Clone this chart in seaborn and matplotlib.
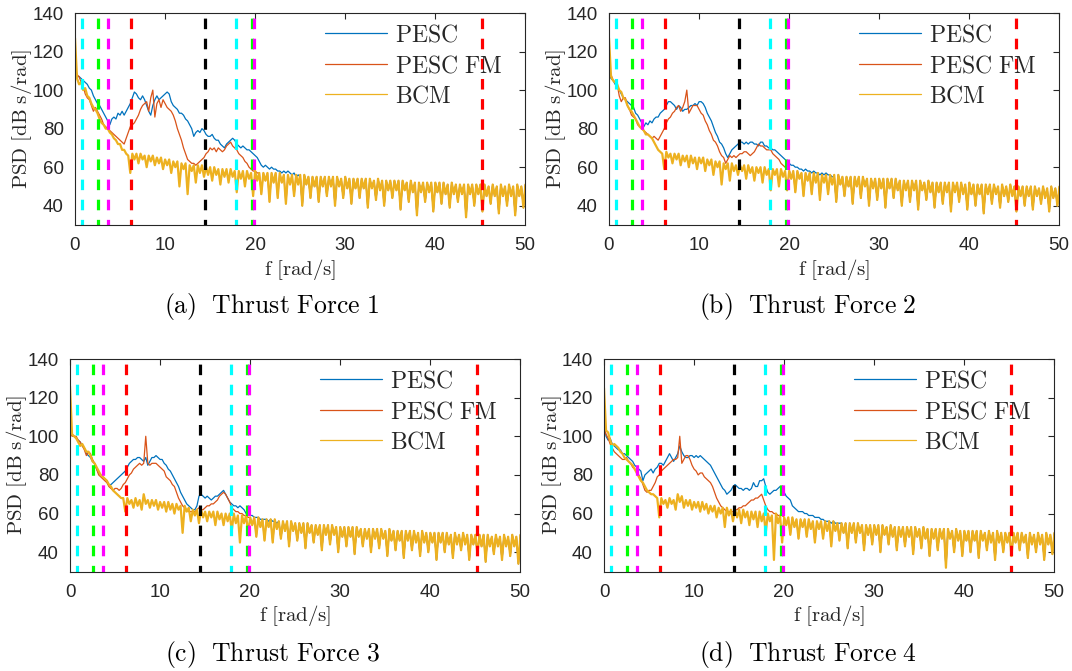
import numpy as np
import pandas as pd
import matplotlib
matplotlib.use("Agg")
import matplotlib.pyplot as plt
import seaborn as sns

# frequency bin width of the spectra [rad/s]
DF = 0.2275

# ---------------- Thrust Force 1 ----------------
bcm_a = [127, 106, 103, 104, 100, 101, 97, 96, 93, 91, 90, 88, 85, 83, 82, 80,
         80, 78, 77, 75, 74, 72, 72, 69, 69, 67, 66, 57,
         67, 64, 67, 62, 67, 64, 66, 60, 66, 63, 66, 61, 65, 62, 65, 59,
         64, 61, 64, 57, 63, 60, 63, 50, 62, 59, 62, 46, 61, 58, 61, 52,
         61, 57, 61, 55, 60, 56, 60, 53, 60, 56, 59, 51, 59, 55, 59, 52,
         59, 55, 58, 47, 58, 54, 58, 50, 58, 54, 57, 45, 58, 53, 57, 46,
         57, 53, 57, 42, 57, 52, 57, 44, 57, 52, 56, 41, 56, 51, 56, 45,
         56, 51, 56, 40, 56, 51, 55, 44, 55, 50, 55, 42, 55, 50, 55, 45,
         55, 50, 55, 40, 55, 50, 54, 44, 55, 49, 54, 41, 54, 49, 54, 44,
         54, 49, 54, 39, 54, 49, 53, 43, 54, 48, 53, 40, 53, 48, 53, 44,
         53, 48, 53, 38, 53, 48, 52, 42, 53, 47, 52, 35, 52, 47, 52, 42,
         52, 47, 52, 37, 52, 47, 52, 41, 52, 46, 51, 39, 52, 46, 51, 42,
         51, 46, 51, 34, 51, 46, 51, 40, 51, 46, 51, 37, 51, 45, 50, 41,
         51, 45, 50, 36, 51, 45, 50, 40, 51, 45, 50, 35, 51, 45, 50, 39, 51]
pesc_a = [110, 107, 107, 106, 105, 104, 103, 101, 100, 97,
          95, 93, 92, 90, 88, 86, 84, 82, 85, 86,
          85, 88, 87, 89, 87, 89, 91, 93, 96, 99,
          98, 96, 95, 97, 95, 92, 89, 87, 92, 95,
          97, 95, 96, 97, 98, 99, 98, 94, 92, 91,
          90, 88, 88, 87, 85, 84, 82, 80, 76, 78,
          79, 78, 80, 79, 77, 76, 76, 77, 75, 74,
          74, 72, 71, 70, 72, 73, 74, 75, 74, 72,
          71, 70, 71, 70, 69, 69, 68, 67, 66, 65,
          63, 61, 60, 61, 60, 59, 60, 59, 59, 58,
          58, 57, 58, 57, 58, 57, 56, 57, 55, 56, 55]
pescfm_a = [112, 108, 107, 104, 102, 98, 96, 95, 92, 89,
            91, 89, 87, 85, 82, 81, 80, 79, 78, 77,
            76, 75, 74, 73, 72, 75, 78, 81, 82, 83,
            85, 87, 90, 92, 93, 94, 89, 96, 100, 86,
            93, 95, 91, 95, 93, 91, 90, 89, 87, 84,
            80, 77, 74, 70, 67, 64, 63, 62, 62, 61,
            62, 63, 64, 65, 67, 68, 70, 69, 70, 68,
            70, 69, 68, 69, 71, 72, 73, 71, 70, 69,
            67, 66, 65, 63, 62, 60, 59, 58, 58, 57, 57]

# ---------------- Thrust Force 2 ----------------
bcm_b = [127, 107, 105, 104, 103, 100, 99, 96, 95, 92, 90, 89, 87, 85, 83, 81,
         80, 79, 77, 77, 76, 75, 73, 71, 69, 68, 67, 59,
         68, 65, 67, 62, 67, 64, 67, 61, 66, 63, 66, 60, 66, 62, 65, 59,
         65, 62, 65, 58, 64, 61, 64, 56, 63, 60, 63, 51, 62, 59, 62, 53,
         62, 58, 61, 56, 61, 58, 61, 54, 61, 57, 60, 53, 60, 57, 60, 52,
         60, 56, 59, 48, 59, 56, 59, 50, 59, 55, 58, 48, 58, 54, 58, 47,
         58, 54, 57, 45, 57, 53, 57, 46, 57, 52, 57, 43, 56, 52, 56, 46,
         56, 51, 56, 42, 56, 51, 55, 45, 55, 50, 55, 41, 55, 50, 55, 44,
         55, 50, 54, 40, 54, 49, 54, 43, 54, 49, 54, 39, 54, 49, 54, 44,
         54, 48, 53, 40, 53, 48, 53, 42, 53, 48, 53, 38, 53, 48, 52, 43,
         53, 47, 52, 39, 52, 47, 52, 41, 52, 47, 52, 37, 52, 47, 52, 42,
         52, 46, 51, 38, 52, 46, 51, 40, 51, 46, 51, 36, 51, 46, 51, 41,
         51, 46, 50, 39, 51, 45, 50, 42, 51, 45, 50, 37, 50, 45, 50, 40,
         50, 45, 50, 38, 50, 45, 49, 41, 50, 44, 49, 37, 50, 44, 49, 40, 50]
pesc_b = [109, 106, 105, 103, 102, 100, 98, 96, 95, 94,
          93, 92, 91, 88, 87, 85, 83, 81, 83, 82,
          84, 83, 85, 86, 86, 88, 89, 90, 92, 94,
          94, 93, 92, 90, 92, 91, 89, 90, 90, 91,
          92, 92, 93, 92, 94, 94, 93, 91, 88, 86,
          84, 81, 78, 76, 73, 72, 70, 67, 65, 67,
          69, 70, 71, 72, 73, 73, 72, 73, 72, 73,
          73, 72, 72, 71, 73, 73, 71, 71, 70, 70,
          69, 69, 68, 67, 66, 65, 64, 63, 62, 61,
          61, 60, 60, 59, 59, 58, 59, 58, 58, 57,
          58, 57, 57, 56, 57, 56, 57, 56, 56, 55, 55]
pescfm_b = [111, 108, 105, 104, 103, 97, 94, 96, 96, 92,
            90, 87, 86, 85, 82, 81, 80, 79, 78, 77,
            76, 75, 76, 75, 74, 76, 78, 80, 83, 85,
            86, 88, 89, 91, 92, 89, 91, 94, 100, 88,
            90, 92, 92, 92, 90, 88, 87, 84, 82, 79,
            77, 74, 73, 71, 68, 66, 65, 62, 64, 66,
            65, 66, 65, 66, 67, 67, 68, 68, 67, 66,
            67, 68, 70, 72, 71, 71, 70, 69, 69, 69,
            67, 66, 65, 64, 62, 61, 60, 59, 59]

# ---------------- Thrust Force 3 ----------------
bcm_c = [126, 101, 100, 99, 97, 95, 96, 94, 92, 92, 90, 87, 86, 84, 82, 80,
         79, 78, 77, 75, 74, 72, 71, 70, 69, 68, 68, 61,
         68, 65, 67, 63, 68, 64, 67, 62, 70, 65, 67, 63, 67, 64, 67, 62,
         66, 63, 66, 61, 66, 62, 65, 60, 65, 62, 64, 50, 64, 61, 63, 56,
         62, 59, 62, 55, 62, 58, 61, 56, 61, 58, 61, 54, 61, 57, 60, 54,
         60, 56, 60, 51, 60, 55, 59, 45, 59, 55, 59, 50, 58, 54, 58, 48,
         58, 53, 57, 46, 57, 53, 57, 45, 57, 52, 56, 47, 56, 51, 56, 43,
         56, 51, 55, 46, 55, 50, 55, 42, 55, 50, 54, 45, 54, 49, 54, 41,
         54, 49, 54, 44, 54, 49, 53, 40, 53, 48, 53, 43, 53, 48, 53, 39,
         53, 48, 52, 43, 52, 47, 52, 40, 52, 47, 52, 42, 52, 47, 51, 38,
         52, 46, 51, 41, 51, 46, 51, 37, 51, 46, 51, 41, 51, 45, 50, 38,
         51, 45, 50, 40, 50, 45, 50, 36, 50, 45, 50, 40, 50, 44, 49, 37,
         50, 44, 49, 41, 50, 44, 49, 36, 49, 44, 49, 39, 49, 43, 49, 35,
         49, 43, 48, 39, 49, 43, 48, 36, 49, 43, 48, 38, 49, 43, 48, 34, 49]
pesc_c = [104, 101, 100, 99, 98, 97, 95, 94, 91, 90,
          89, 87, 86, 83, 81, 80, 79, 78, 77, 75,
          75, 76, 77, 78, 79, 80, 81, 82, 84, 86,
          87, 88, 88, 89, 89, 88, 87, 89, 85, 87,
          89, 89, 90, 89, 88, 88, 86, 85, 83, 82,
          80, 78, 76, 74, 71, 69, 67, 65, 64, 63,
          62, 62, 64, 69, 70, 69, 68, 69, 68, 67,
          68, 69, 69, 70, 71, 72, 70, 68, 66, 65,
          64, 64, 63, 64, 63, 62, 60, 60, 59, 59,
          58, 58, 58, 57, 57, 57, 57, 56, 57, 56,
          56, 55]
pescfm_c = [102, 100, 100, 100, 98, 97, 95, 93, 90, 92,
            91, 88, 86, 83, 80, 79, 78, 77, 76, 74,
            73, 72, 73, 73, 72, 73, 75, 76, 78, 80,
            81, 83, 84, 85, 86, 85, 86, 100, 86, 85,
            86, 86, 86, 85, 84, 83, 82, 79, 78, 77,
            75, 74, 71, 68, 66, 64, 63, 62, 61, 61,
            61, 61, 62, 63, 62, 62, 63, 64, 64, 65,
            65, 66, 67, 69, 70, 71, 70, 68, 66, 63,
            62, 61, 61, 60, 60, 59, 59, 58]

# ---------------- Thrust Force 4 ----------------
bcm_d = [125, 103, 102, 98, 95, 96, 95, 94, 92, 91, 89, 88, 87, 86, 85, 83,
         81, 79, 77, 76, 74, 72, 71, 70, 70, 69, 68, 58,
         68, 65, 67, 63, 68, 65, 67, 62, 70, 66, 69, 63, 67, 64, 67, 62,
         66, 63, 66, 61, 66, 62, 65, 60, 64, 61, 64, 58, 63, 60, 63, 53,
         63, 59, 62, 56, 62, 58, 62, 55, 62, 58, 61, 54, 61, 57, 61, 53,
         61, 56, 60, 50, 60, 56, 59, 36, 60, 55, 59, 45, 58, 54, 58, 49,
         58, 53, 57, 47, 57, 53, 57, 48, 57, 52, 56, 45, 56, 52, 56, 47,
         56, 51, 56, 43, 56, 51, 55, 46, 55, 50, 55, 42, 55, 50, 55, 45,
         55, 50, 54, 41, 54, 49, 54, 44, 54, 49, 54, 40, 54, 49, 53, 44,
         54, 48, 53, 41, 53, 48, 53, 43, 53, 48, 53, 39, 53, 48, 52, 42,
         53, 47, 52, 38, 52, 47, 52, 41, 52, 47, 52, 32, 52, 47, 51, 40,
         52, 46, 51, 38, 51, 46, 51, 40, 51, 46, 51, 37, 51, 46, 50, 41,
         51, 45, 50, 36, 51, 45, 50, 40, 50, 45, 50, 38, 50, 45, 50, 41,
         50, 45, 49, 37, 50, 44, 49, 40, 50, 44, 49, 36, 50, 44, 49, 39, 50]
pesc_d = [106, 100, 98, 99, 96, 95, 94, 93, 93, 91,
          91, 90, 89, 88, 87, 85, 84, 83, 82, 77,
          80, 81, 82, 83, 81, 83, 84, 86, 86, 85,
          87, 89, 91, 89, 87, 89, 91, 95, 92, 90,
          89, 89, 90, 90, 89, 90, 89, 90, 89, 88,
          87, 86, 85, 83, 81, 79, 77, 75, 73, 72,
          70, 71, 72, 74, 75, 74, 73, 73, 72, 73,
          73, 72, 73, 76, 74, 74, 77, 77, 78, 74,
          71, 70, 71, 72, 72, 73, 74, 73, 71, 69,
          68, 67, 64, 63, 62, 61, 61, 61, 60, 60,
          59, 59, 59, 58, 58, 58, 57, 57, 56, 56,
          56, 55, 56, 55, 55, 55]
pescfm_d = [104, 101, 99, 96, 94, 92, 91, 90, 89, 88,
            88, 89, 87, 86, 84, 83, 82, 80, 78, 75,
            72, 71, 72, 72, 74, 76, 79, 80, 82, 83,
            84, 85, 86, 87, 88, 88, 89, 100, 86, 88,
            90, 90, 88, 85, 83, 82, 80, 81, 81, 79,
            78, 77, 76, 74, 71, 68, 66, 64, 63, 62,
            61, 61, 61, 61, 62, 62, 63, 63, 64, 64,
            65, 66, 67, 67, 68, 68, 69, 70, 67, 64,
            62, 61, 61, 60, 60, 59, 59, 59, 58]

series_names = ["PESC", "PESC FM", "BCM"]
series_labels = [r"$\mathrm{PESC}$", r"$\mathrm{PESC\ FM}$", r"$\mathrm{BCM}$"]
series_colors = {"PESC": "#0072BD", "PESC FM": "#D95319", "BCM": "#EDB120"}
series_widths = [0.9, 0.9, 1.6]

# reference frequencies marked by dashed verticals
marker_freqs = [0.8, 2.55, 3.65, 6.2, 14.4, 17.9, 19.65, 19.85, 45.2]
marker_colors = ["#00FFFF", "#00FF00", "#FF00FF", "#FF0000", "#000000",
                 "#00FFFF", "#00FF00", "#FF00FF", "#FF0000"]

captions = [r"$\mathrm{(a)\ \ Thrust\ Force\ 1}$", r"$\mathrm{(b)\ \ Thrust\ Force\ 2}$",
            r"$\mathrm{(c)\ \ Thrust\ Force\ 3}$", r"$\mathrm{(d)\ \ Thrust\ Force\ 4}$"]
xticks = [0, 10, 20, 30, 40, 50]
yticks = [40, 60, 80, 100, 120, 140]
xlabel = r"$\mathrm{f\ [rad/s]}$"
ylabel = r"$\mathrm{PSD\ [dB\ s/rad]}$"

panels = [(bcm_a, pesc_a, pescfm_a), (bcm_b, pesc_b, pescfm_b),
          (bcm_c, pesc_c, pescfm_c), (bcm_d, pesc_d, pescfm_d)]


def long_frame(bcm, pesc, fm):
    bcm = np.asarray(bcm, dtype=float)
    freq = np.arange(len(bcm)) * DF
    # above the plotted range of PESC / PESC FM the three spectra coincide
    pesc_full = np.concatenate([pesc, bcm[len(pesc):]])
    fm_full = np.concatenate([fm, bcm[len(fm):]])
    parts = []
    for name, vals in zip(series_names, [pesc_full, fm_full, bcm]):
        parts.append(pd.DataFrame({"f": freq, "psd": vals, "series": name}))
    return pd.concat(parts, ignore_index=True)


sns.set_style("white")
plt.rcParams["font.family"] = ["Liberation Sans", "DejaVu Sans"]
plt.rcParams["mathtext.fontset"] = "cm"

W, H = 1072, 671
fig = plt.figure(figsize=(W / 100, H / 100), dpi=100)

# axes boxes in pixels: left, top, right, bottom
boxes = [(75, 13, 525, 225), (609, 13, 1059, 225),
         (70, 359, 520, 571.5), (604, 359, 1054, 571.5)]
caption_pos = [(272, 307), (808, 307), (272, 655), (808, 655)]

ink = "#262626"
for k, (data, box) in enumerate(zip(panels, boxes)):
    l, t, r, b = box
    ax = fig.add_axes([l / W, 1 - b / H, (r - l) / W, (b - t) / H])
    df = long_frame(*data)
    sns.lineplot(data=df, x="f", y="psd", hue="series", hue_order=series_names,
                 palette=series_colors, estimator=None, sort=False,
                 linewidth=0.9, legend=False, ax=ax)
    curve_lines = list(ax.lines[:3])
    for ln, lw in zip(curve_lines, series_widths):
        ln.set_linewidth(lw)
    for xf, col in zip(marker_freqs, marker_colors):
        ax.axvline(xf, ymin=1, ymax=0, color=col, linewidth=2.3,
                   linestyle=(4.7, (3.3, 3.0)))
    ax.set_xlim(0, 50)
    ax.set_ylim(30, 140)
    ax.set_xticks(xticks)
    ax.set_yticks(yticks)
    ax.tick_params(direction="in", length=4.5, width=0.8, top=True, right=True,
                   labelsize=13.5, colors=ink)
    ax.tick_params(axis="y", pad=8)
    ax.tick_params(axis="x", pad=9)
    for sp in ax.spines.values():
        sp.set_color(ink)
        sp.set_linewidth(0.8)
    ax.set_xlabel(xlabel, fontsize=15, color=ink)
    ax.set_ylabel(ylabel, fontsize=15, color=ink)
    ax.xaxis.set_label_coords(0.5, -0.15)
    ax.yaxis.set_label_coords(-0.09, 0.5)
    leg = ax.legend(curve_lines, series_labels, loc="upper left",
                    bbox_to_anchor=(0.556, 0.945), frameon=False, fontsize=17,
                    handlelength=2.6, handletextpad=0.35, labelspacing=0.36,
                    borderaxespad=0, borderpad=0)
    for ln in leg.get_lines():
        ln.set_linewidth(0.9)
    cx, cy = caption_pos[k]
    fig.text(cx / W, 1 - cy / H, captions[k], ha="center", va="center",
             fontsize=18.5, color="black")

fig.savefig("out.png", dpi=100)
